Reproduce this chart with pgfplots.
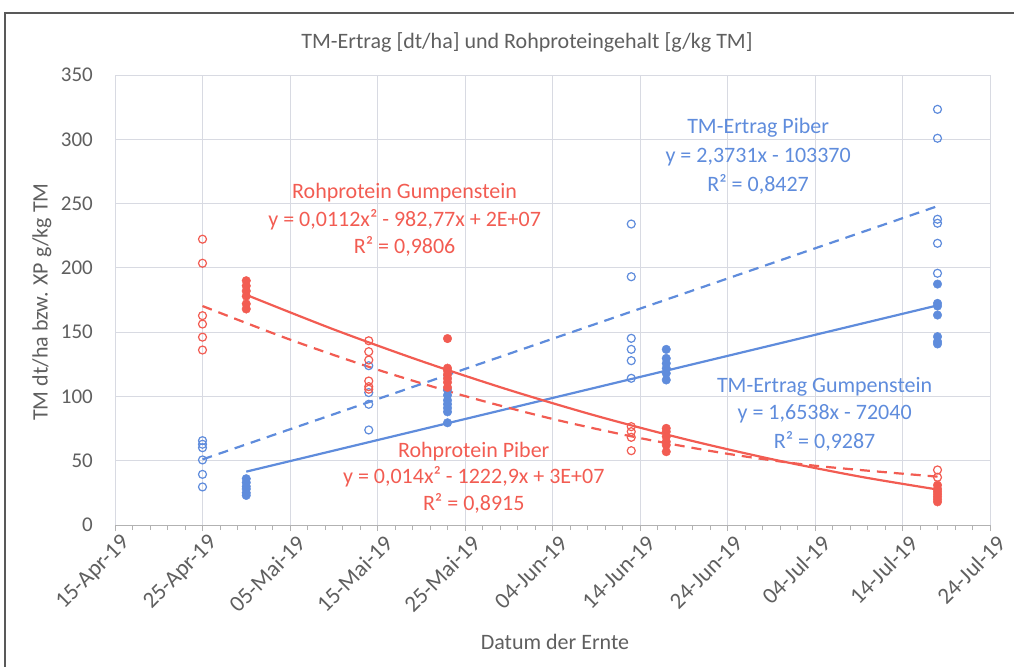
\documentclass[border=0pt]{standalone}
\usepackage{fontspec}
\setmainfont{Carlito}
\usepackage{pgfplots}
\pgfplotsset{compat=1.18}
\definecolor{xpred}{RGB}{242,92,82}
\definecolor{tmblue}{RGB}{95,140,220}
\definecolor{txtgray}{RGB}{95,95,95}
\definecolor{gridgray}{RGB}{216,218,226}
\newcommand{\fs}[1]{\fontsize{#1bp}{#1bp}\selectfont}

\begin{document}
\begin{tikzpicture}
\path[use as bounding box] (0,0) rectangle (1014bp,667bp);
\draw[line width=1.5bp, black!65] (5bp,-2bp) -- (5bp,654bp) -- (1016bp,654bp);
\begin{axis}[
  at={(115bp,142bp)}, anchor=south west,
  scale only axis, width=875bp, height=450bp,
  xmin=0, xmax=100, ymin=0, ymax=350,
  xtick={0,10,...,100},
  xticklabels={15-Apr-19,25-Apr-19,05-Mai-19,15-Mai-19,25-Mai-19,04-Jun-19,14-Jun-19,24-Jun-19,04-Jul-19,14-Jul-19,24-Jul-19},
  minor x tick num=4,
  ytick={0,50,...,350},
  grid=major,
  major grid style={gridgray, line width=0.9bp},
  axis x line*=bottom, axis y line*=left,
  y axis line style={draw=none},
  x axis line style={draw=black!30, line width=1bp, -},
  tick align=outside,
  major tick length=6bp, minor tick length=5bp,
  xtick style={black!30, line width=0.9bp},
  minor x tick style={black!30, line width=0.9bp},
  ytick style={draw=none},
  /pgf/number format/assume math mode=true,
  tick label style={font=\fs{21}, text=txtgray},
  yticklabel style={inner sep=0pt, xshift=-16bp},
  xticklabel style={font=\fs{23}, rotate=45, anchor=east, inner sep=0pt, yshift=-14bp, xshift=2bp},
  clip=false,
]
% TM-Ertrag Piber (offen)
\addplot[only marks, mark=o, mark size=4bp, tmblue, line width=1.2bp] coordinates {
 (10,65.6) (10,62.8) (10,60.1) (10,50.6) (10,39.4) (10,29.6)
 (29,123.9) (29,103) (29,93.9) (29,73.9)
 (59,234.1) (59,193.1) (59,145.2) (59,136.6) (59,127.8) (59,114.1)
 (94,323.3) (94,300.8) (94,237.8) (94,234.7) (94,219.1) (94,195.8)
};
% TM-Ertrag Gumpenstein (gefuellt)
\addplot[only marks, mark=*, mark size=4.3bp, tmblue, fill=tmblue] coordinates {
 (15,36) (15,33) (15,30) (15,28) (15,25) (15,23)
 (38,105) (38,101) (38,97) (38,94) (38,91) (38,88) (38,79.5)
 (63,136.6) (63,129.6) (63,125.7) (63,121.9) (63,118) (63,112.8)
 (94,187.4) (94,172.4) (94,170.3) (94,163.3) (94,146.5) (94,142.6) (94,140.8)
};
% Rohprotein Piber (offen)
\addplot[only marks, mark=o, mark size=4bp, xpred, line width=1.2bp] coordinates {
 (10,222.3) (10,203.6) (10,162.8) (10,156.3) (10,146.1) (10,136.1)
 (29,143.3) (29,134.8) (29,128.3) (29,112) (29,107.6) (29,105.6)
 (59,76.5) (59,72.6) (59,68.2) (59,57.8)
 (94,42.8) (94,37.1)
};
% Rohprotein Gumpenstein (gefuellt)
\addplot[only marks, mark=*, mark size=4.3bp, xpred, fill=xpred] coordinates {
 (15,190) (15,186) (15,182) (15,178) (15,172) (15,168)
 (38,145) (38,122) (38,120) (38,117) (38,114) (38,111) (38,107)
 (63,75.2) (63,72.6) (63,68.7) (63,64.8) (63,62.2) (63,57)
 (94,31) (94,28) (94,26) (94,24) (94,22) (94,20) (94,18)
};
% Trendlinien
\addplot[tmblue, line width=2.2bp, no marks] coordinates {(15,41.5) (94,170.8)};
\addplot[tmblue, line width=2.2bp, no marks, dash pattern=on 10bp off 7bp] coordinates {(10,51) (94,248)};
\addplot[xpred, line width=2.2bp, no marks, smooth] coordinates {
 (15,179) (25,152.1) (35,127.5) (45,105.1) (55,84.9) (65,67.0) (75,51.3) (85,37.8) (94,27.6)};
\addplot[xpred, line width=2.2bp, no marks, smooth, dash pattern=on 10bp off 7bp] coordinates {
 (10,170.3) (20,144.2) (30,120.8) (40,100.3) (50,82.5) (60,67.6) (70,55.4) (80,46.1) (94,37.6)};
% Beschriftungen
\begin{scope}[every node/.style={font=\fs{22}, inner sep=0pt}]
\node[tmblue] at (axis cs:73.5,308.8) {TM-Ertrag Piber};
\node[tmblue] at (axis cs:73.5,286.2) {y = 2,3731x - 103370};
\node[tmblue] at (axis cs:73.5,265.2) {R² = 0,8427};
\node[xpred] at (axis cs:33.1,258.2) {Rohprotein Gumpenstein};
\node[xpred] at (axis cs:33.1,237.2) {y = 0,0112x² - 982,77x + 2E+07};
\node[xpred] at (axis cs:33.1,217) {R² = 0,9806};
\node[tmblue] at (axis cs:81.1,107.3) {TM-Ertrag Gumpenstein};
\node[tmblue] at (axis cs:81.1,86.3) {y = 1,6538x - 72040};
\node[tmblue] at (axis cs:81.1,65.3) {R² = 0,9287};
\node[xpred] at (axis cs:41,56.8) {Rohprotein Piber};
\node[xpred] at (axis cs:41,37.3) {y = 0,014x² - 1222,9x + 3E+07};
\node[xpred] at (axis cs:41,17.1) {R² = 0,8915};
\end{scope}
\end{axis}
\node[font=\fs{22}, text=txtgray] at (527bp,625bp) {TM-Ertrag [dt/ha] und Rohproteingehalt [g/kg TM]};
\node[font=\fs{22}, text=txtgray] at (555bp,25bp) {Datum der Ernte};
\node[font=\fs{22}, text=txtgray, rotate=90] at (42bp,365bp) {TM dt/ha bzw. XP g/kg TM};
\end{tikzpicture}
\end{document}
